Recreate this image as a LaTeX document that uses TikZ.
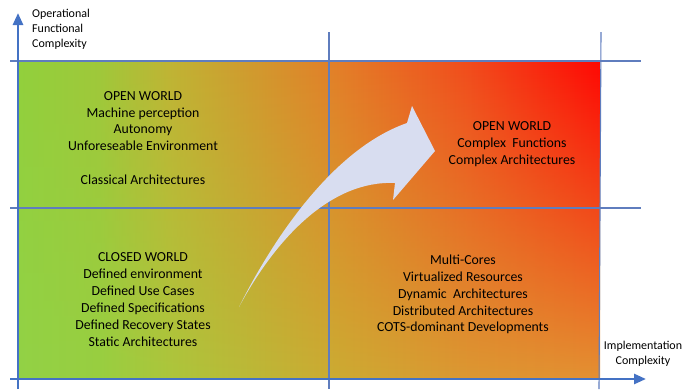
\documentclass[tikz,border=0pt]{standalone}
\usepackage{fontspec}
\setmainfont{Carlito}
\usetikzlibrary{arrows.meta,fadings}
\definecolor{axisblue}{RGB}{68,114,196}
\definecolor{gridblue}{RGB}{95,125,190}
\definecolor{arrowfill}{RGB}{216,221,240}
% bottom row colours
\definecolor{b1}{RGB}{146,210,70}
\definecolor{b2}{RGB}{152,207,65}
\definecolor{b3}{RGB}{172,198,60}
\definecolor{b4}{RGB}{205,170,50}
\definecolor{b5}{RGB}{220,152,50}
\definecolor{b6}{RGB}{228,145,50}
% top row colours
\definecolor{t1}{RGB}{146,208,60}
\definecolor{t2}{RGB}{160,200,58}
\definecolor{t3}{RGB}{192,180,52}
\definecolor{t4}{RGB}{228,125,40}
\definecolor{t5}{RGB}{242,75,28}
\definecolor{t6}{RGB}{255,8,4}
\pgfdeclarehorizontalshading{bottomrow}{100bp}{color(0bp)=(b1); color(25bp)=(b1); color(32bp)=(b2); color(38bp)=(b3); color(52.8bp)=(b4); color(63.8bp)=(b5); color(75bp)=(b6); color(100bp)=(b6)}
\pgfdeclarehorizontalshading{toprow}{100bp}{color(0bp)=(t1); color(25bp)=(t1); color(32bp)=(t2); color(38bp)=(t3); color(52.8bp)=(t4); color(63.8bp)=(t5); color(75bp)=(t6); color(100bp)=(t6)}
\tikzset{
  axis/.style={axisblue, line width=2.6pt, -{Triangle[width=10pt,length=12pt]}},
  gridline/.style={gridblue, line width=1.1pt},
  qtext/.style={align=center, text=black, font=\fontsize{13.8}{16.9}\selectfont, inner sep=0pt},
  axislabel/.style={text=black, font=\fontsize{12}{15}\selectfont, inner sep=0pt},
}
\begin{document}
\begin{tikzpicture}[x=1pt,y=-1pt]
\useasboundingbox (0,0) rectangle (685,389);
% gradient area (y axis is flipped, so the fading named south is opaque at the top here)
\shade[shading=bottomrow] (18,61) rectangle (600,379);
\shade[shading=toprow, path fading=south] (18,61) rectangle (600,379);
% grid lines
\coordinate (tl) at (10,61);   \coordinate (tr) at (641,61);
\coordinate (ml) at (10,208);  \coordinate (mr) at (641,208);
\coordinate (vt1) at (329,32); \coordinate (vb1) at (329,389);
\coordinate (vt2) at (601,32); \coordinate (vb2) at (599,389);
\draw[gridline] (tl) -- (tr);
\draw[gridline] (ml) -- (mr);
\draw[gridline] (vt1) -- (vb1);
\draw[gridline] (vt2) -- (vb2);
% curved arrow
\fill[arrowfill] (239,307) .. controls (270,245) and (330,150) .. (407,123)
  -- (412,106) -- (435,151) -- (393,200) -- (395,183)
  .. controls (330,180) and (275,240) .. (239,307) -- cycle;
% axes
\coordinate (yb) at (18,389); \coordinate (yt) at (18,13);
\coordinate (xl) at (10,379); \coordinate (xr) at (646,379);
\draw[axis] (yb) -- (yt);
\draw[axis] (xl) -- (xr);
% axis labels
\node[axislabel, anchor=north west, align=left] (ylab) at (32,9)
  {Operational\\Functional\\Complexity};
\node[axislabel, align=center] (xlab) at (643,354)
  {Implementation\\Complexity};
% quadrant texts
\node[qtext] (q1) at (143,138)
  {OPEN WORLD\\Machine perception\\Autonomy\\Unforeseable Environment\\[16.9pt]Classical Architectures};
\node[qtext] (q2) at (512,144)
  {OPEN WORLD\\Complex\ \ Functions\\Complex Architectures};
\node[qtext] (q3) at (143,299.5)
  {CLOSED WORLD\\Defined environment\\Defined Use Cases\\Defined Specifications\\Defined Recovery States\\Static Architectures};
\node[qtext] (q4) at (463,294.5)
  {Multi-Cores\\Virtualized Resources\\Dynamic\ \ Architectures\\Distributed Architectures\\COTS-dominant Developments};
\end{tikzpicture}
\end{document}
